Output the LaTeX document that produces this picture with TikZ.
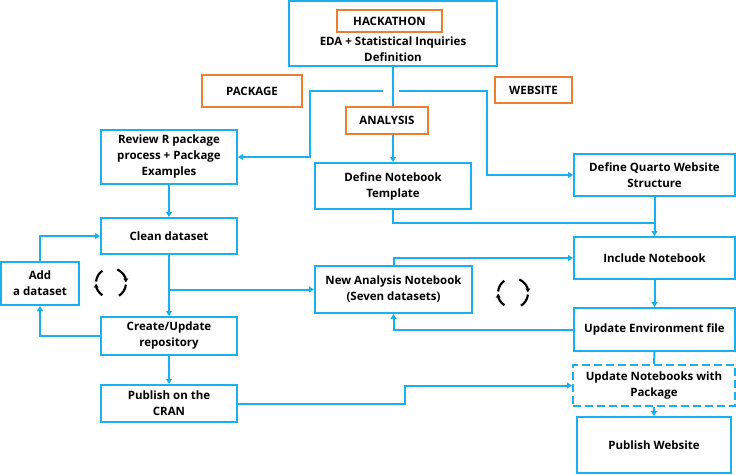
\documentclass[tikz,border=0pt]{standalone}
\usepackage{fontspec}
\setmainfont{Open Sans}
\usetikzlibrary{arrows.meta}
\definecolor{cblue}{HTML}{1AB0EE}
\definecolor{corange}{HTML}{ED7D31}
\begin{document}
\begin{tikzpicture}[x=1pt,y=-1pt,
  bbox/.style={draw=cblue,line width=2pt,align=center,inner sep=0pt,font=\fontsize{11.5}{16}\selectfont\bfseries},
  obox/.style={draw=corange,line width=2pt,align=center,inner sep=0pt,font=\fontsize{11.5}{14}\selectfont\bfseries},
  txt/.style={align=center,inner sep=0pt,font=\fontsize{11.5}{16}\selectfont\bfseries},
  conn/.style={draw=cblue,line width=2pt},
  arr/.style={conn,-{Triangle[length=5pt,width=6pt]}},
  cyc/.style={line width=2.2pt,black}]
\useasboundingbox (0,0) rectangle (736,474);
% top
\node[bbox,minimum width=208pt,minimum height=65pt] (hack) at (393,33.5) {};
\node[obox,minimum width=105pt,minimum height=22pt] (hacklbl) at (389.5,21) {HACKATHON};
\node[txt] (hacktxt) at (393,49) {EDA + Statistical Inquiries\\Definition};
\node[obox,minimum width=100pt,minimum height=32pt] (pkg) at (252,91) {PACKAGE};
\node[obox,minimum width=77pt,minimum height=26pt] (web) at (533.5,90) {WEBSITE};
\node[obox,minimum width=82pt,minimum height=27pt] (ana) at (387,120.5) {ANALYSIS};
% boxes
\node[bbox,minimum width=136pt,minimum height=54pt] (review) at (169,157) {Review R package\\process + Package\\Examples};
\node[bbox,minimum width=156pt,minimum height=46pt] (defnb) at (393,186) {Define Notebook\\Template};
\node[bbox,minimum width=161pt,minimum height=42pt] (quarto) at (654.5,175) {Define Quarto Website\\Structure};
\node[bbox,minimum width=136pt,minimum height=36pt] (clean) at (169,236) {Clean dataset};
\node[bbox,minimum width=78pt,minimum height=43pt] (add) at (40,283.5) {Add\\a dataset};
\node[bbox,minimum width=136pt,minimum height=38pt] (create) at (169,336) {Create/Update\\repository};
\node[bbox,minimum width=136pt,minimum height=37pt] (cran) at (169,403.5) {Publish on the\\CRAN};
\node[bbox,minimum width=157pt,minimum height=47pt] (newan) at (393.5,289.5) {New Analysis Notebook\\(Seven datasets)};
\node[bbox,minimum width=161pt,minimum height=42pt] (incl) at (654.5,258) {Include Notebook};
\node[bbox,minimum width=161pt,minimum height=43pt] (env) at (654.5,329.5) {Update Environment file};
\node[bbox,dash pattern=on 8pt off 4pt,minimum width=162pt,minimum height=41pt] (upnb) at (654,385.5) {Update Notebooks with\\Package};
\node[bbox,minimum width=154pt,minimum height=56pt] (pubweb) at (654,445) {Publish Website};
% connectors top
\coordinate (jl) at (383,91);
\coordinate (jr) at (399,91);
\coordinate (merge) at (654.5,223);
\draw[conn] (hack.south -| defnb.north) -- (ana.north -| defnb.north);
\draw[arr] (ana.south -| defnb.north) -- (defnb.north);
\draw[arr] (jl) -- (310,91) |- (review.east);
\draw[arr] (jr) -- (487,91) |- (quarto.west);
\draw[arr] (quarto.south) -- (incl.north);
\draw[conn] (defnb.south) |- (merge);
% left column
\draw[arr] (review.south) -- (clean.north);
\draw[arr] (add.north) |- (clean.west);
\draw[arr] (create.west) -| (add.south);
\draw[arr] (clean.south) -- (create.north);
\coordinate (br) at (clean.south |- newan.west);
\draw[arr] (br) -- (newan.west);
\draw[arr] (create.south) -- (cran.north);
\draw[arr] (cran.east) -- (405,403.5) |- (upnb.west);
% right column
\draw[arr] (newan.north) |- (incl.west);
\draw[arr] (incl.south) -- (env.north);
\draw[arr] (env.west) -| (newan.south);
\draw[conn] (env.south) -- (upnb.north);
\draw[arr] (upnb.south) -- (pubweb.north);
% cycle icons
\foreach \cx/\cy in {111/283, 513/293}{
  \coordinate (c) at (\cx,\cy);
  \draw[cyc,-{Stealth[length=4pt,width=5pt]}] ([shift={(-65:15)}]c) arc[start angle=-65,end angle=-3,radius=15];
  \draw[cyc] ([shift={(6:15)}]c) arc[start angle=6,end angle=58,radius=15];
  \draw[cyc,-{Stealth[length=4pt,width=5pt]}] ([shift={(125:15)}]c) arc[start angle=125,end angle=177,radius=15];
  \draw[cyc] ([shift={(186:15)}]c) arc[start angle=186,end angle=235,radius=15];
}
\end{tikzpicture}
\end{document}
